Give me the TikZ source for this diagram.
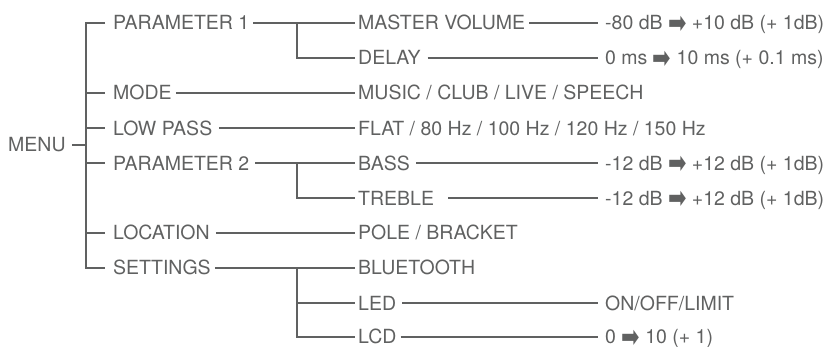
\documentclass[tikz,border=0pt]{standalone}
\usepackage{fontspec}
\setmainfont{TeX Gyre Heros}
\newfontfamily\arrowfont{DejaVu Sans}
\definecolor{ink}{HTML}{606161}
\newcommand{\harr}{\raisebox{-3.5pt}{\scalebox{1}[1.4]{\arrowfont\fontsize{22}{22}\selectfont ➡}}}
\begin{document}
\begin{tikzpicture}[x=1pt,y=-1pt,
  lbl/.style={anchor=west, inner sep=0pt, text height=14pt, text depth=0pt, text=ink, font=\fontsize{19.5}{22}\selectfont},
  link/.style={draw=ink, line width=2pt}]
\useasboundingbox (0,0) rectangle (835,347);
% level 0
\node[lbl] (menu) at (8,145) {MENU};
% level 1
\node[lbl] (p1)   at (113,22.7)  {PARAMETER 1};
\node[lbl] (mode) at (113,93)    {MODE};
\node[lbl] (low)  at (113,128.5) {LOW PASS};
\node[lbl] (p2)   at (113,163.5) {PARAMETER 2};
\node[lbl] (loc)  at (113,233)   {LOCATION};
\node[lbl] (set)  at (113,268)   {SETTINGS};
% level 2
\node[lbl] (mv)     at (358,22.7)  {MASTER VOLUME};
\node[lbl] (delay)  at (358,58)    {DELAY};
\node[lbl] (music)  at (358,93)    {MUSIC / CLUB / LIVE / SPEECH};
\node[lbl] (flat)   at (358,128.5) {FLAT / 80 Hz / 100 Hz / 120 Hz / 150 Hz};
\node[lbl] (bass)   at (358,163.5) {BASS};
\node[lbl] (treble) at (358,198.5) {TREBLE};
\node[lbl] (pole)   at (358,233)   {POLE / BRACKET};
\node[lbl] (bt)     at (358,268)   {BLUETOOTH};
\node[lbl] (led)    at (358,303)   {LED};
\node[lbl] (lcd)    at (358,336.5) {LCD};
% level 3
\node[lbl] (v1) at (605,22.7)  {-80 dB \harr{} +10 dB (+ 1dB)};
\node[lbl] (v2) at (605,58)    {0 ms \harr{} 10 ms (+ 0.1 ms)};
\node[lbl] (v4) at (605,163.5) {-12 dB \harr{} +12 dB (+ 1dB)};
\node[lbl] (v5) at (605,198.5) {-12 dB \harr{} +12 dB (+ 1dB)};
\node[lbl] (v8) at (605,303)   {ON/OFF/LIMIT};
\node[lbl] (v9) at (605,336.5) {0 \harr{} 10 (+ 1)};
% junctions
\coordinate (jm) at (86,145);
\coordinate (j1) at (297,22.7);
\coordinate (j2) at (297,163.5);
\coordinate (j3) at (297,268);
% menu tree
\draw[link, shorten <=6pt] (menu.east) -- (jm);
\draw[link, shorten <=8pt, shorten >=8pt] (p1.west) -| (jm |- set.west) -- (set.west);
\foreach \n in {mode,low,p2,loc} \draw[link, shorten >=8pt] (jm |- \n.west) -- (\n.west);
% level 1 -> level 2
\draw[link, shorten <=4pt, shorten >=3pt] (p1.east) -- (mv.west);
\draw[link, shorten >=3pt] (j1) |- (delay.west);
\draw[link, shorten <=4pt, shorten >=3pt] (mode.east) -- (music.west);
\draw[link, shorten <=7pt, shorten >=3pt] (low.east) -- (flat.west);
\draw[link, shorten <=6pt, shorten >=3pt] (p2.east) -- (bass.west);
\draw[link, shorten >=3pt] (j2) |- (treble.west);
\draw[link, shorten <=6pt, shorten >=3pt] (loc.east) -- (pole.west);
\draw[link, shorten <=4pt, shorten >=3pt] (set.east) -- (bt.west);
\draw[link, shorten >=3pt] (j3) |- (lcd.west);
\draw[link, shorten >=3pt] (j3 |- led.west) -- (led.west);
% level 2 -> level 3
\draw[link, shorten <=4pt, shorten >=7pt] (mv.east) -- (v1.west);
\draw[link, shorten <=7pt, shorten >=7pt] (delay.east) -- (v2.west);
\draw[link, shorten <=6pt, shorten >=7pt] (bass.east) -- (v4.west);
\draw[link, shorten <=14pt, shorten >=7pt] (treble.east) -- (v5.west);
\draw[link, shorten <=6pt, shorten >=7pt] (led.east) -- (v8.west);
\draw[link, shorten <=4pt, shorten >=7pt] (lcd.east) -- (v9.west);
\end{tikzpicture}
\end{document}
